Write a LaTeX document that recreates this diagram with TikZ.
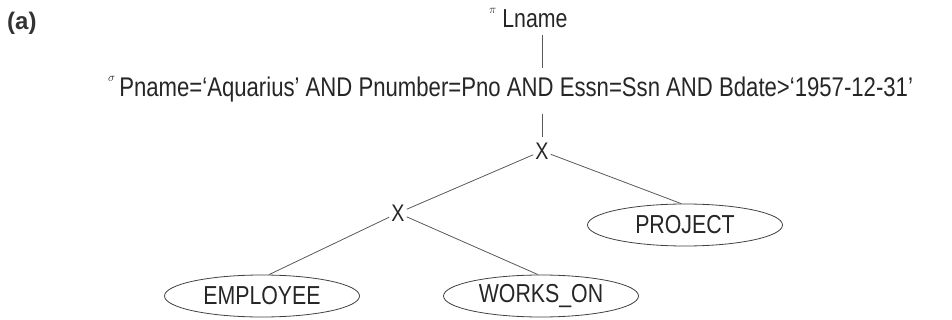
\documentclass[tikz,border=0pt]{standalone}
\usepackage{fontspec}
\setmainfont[FakeStretch=0.82]{Liberation Sans}
\newfontfamily\plainsans{Liberation Sans}
\usetikzlibrary{shapes.geometric}
\begin{document}
\begin{tikzpicture}[x=1pt,y=-1pt,
  rel/.style={ellipse,draw=black!75,line width=0.8pt,minimum width=195pt,minimum height=42pt,inner sep=0pt,text=black!85,font=\fontsize{26}{26}\selectfont},
  op/.style={inner sep=2pt,text=black!85,font=\fontsize{24}{24}\selectfont},
  edge/.style={draw=black!65,line width=0.8pt},
  lbl/.style={inner sep=0pt,text=black!85}]
\useasboundingbox (0,0) rectangle (952,320);
\node[anchor=base west,inner sep=0pt,font=\plainsans\bfseries\fontsize{24}{24}\selectfont,text=black!80] (a) at (7,30) {(a)};
\node[lbl,anchor=base west,font=\fontsize{26}{26}\selectfont] (proj) at (489,28) {\raisebox{14pt}{\fontsize{12}{12}\selectfont$\pi$}\hspace{6pt}Lname};
\node[lbl,anchor=base west,font=\fontsize{27}{27}\selectfont] (sel) at (108,97) {\raisebox{15pt}{\fontsize{13}{13}\selectfont$\sigma$}\hspace{4pt}Pname=`Aquarius' AND Pnumber=Pno AND Essn=Ssn AND Bdate>`1957-12-31'};
\coordinate (p1) at (542,35);
\coordinate (p2) at (542,68);
\coordinate (s1) at (542,114);
\coordinate (s2) at (542,137);
\node[op] (x1) at (542,151) {X};
\node[op] (x2) at (398,213) {X};
\node[rel] (project) at (685,225) {PROJECT};
\node[rel] (employee) at (262,296) {EMPLOYEE};
\node[rel] (works) at (541,296) {WORKS\_ON};
\draw[edge] (p1) -- (p2);
\draw[edge] (s1) -- (s2);
\draw[edge] (x1) -- (x2);
\draw[edge] (x1) -- (project.100);
\draw[edge] (x2) -- (employee.72);
\draw[edge] (x2) -- (works.98);
\end{tikzpicture}
\end{document}
